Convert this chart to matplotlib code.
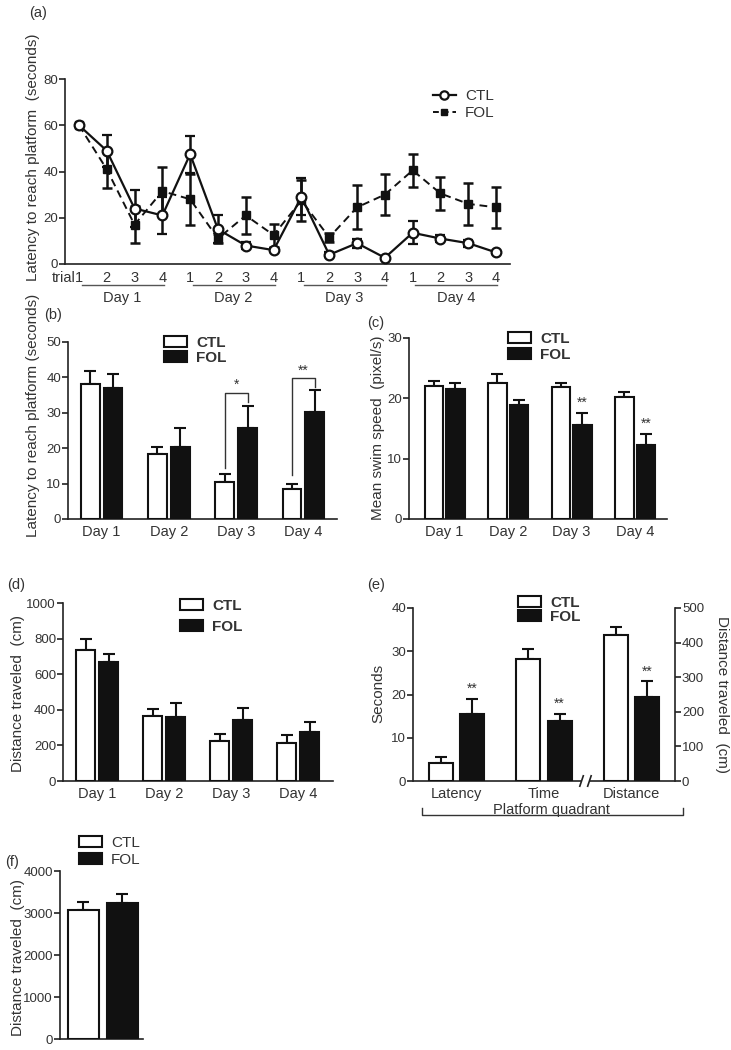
import numpy as np
import matplotlib.pyplot as plt
import matplotlib.transforms as mtransforms
from matplotlib.patches import Patch
from matplotlib.lines import Line2D

plt.rcParams['font.family'] = ['Liberation Sans', 'DejaVu Sans']
plt.rcParams['font.size'] = 9
TXT = '#333333'

# ---- data ----
# (a) latency per trial
trial_labels = ['1', '2', '3', '4'] * 4
days = ['Day 1', 'Day 2', 'Day 3', 'Day 4']
a_ctl = [60, 49, 24, 21, 47.5, 15, 8, 6, 29, 4, 9, 2.7, 13.5, 11, 9, 5]
a_ctl_err = [0, 7, 8, 8, 8, 6, 1.5, 1, 8, 1, 2, 0.5, 5, 1.5, 1.5, 0.5]
a_fol = [60, 41, 17, 31.5, 28, 11, 21, 12.5, 27.5, 11.5, 24.5, 30, 40.5, 30.5, 26, 24.5]
a_fol_err = [0, 8, 8, 10.5, 11, 2, 8, 5, 9, 2, 9.5, 9, 7, 7, 9, 9]

# (b) latency per day
b_ctl = [38.1, 18.4, 10.4, 8.6]
b_ctl_err = [3.7, 1.9, 2.4, 1.3]
b_fol = [37.1, 20.4, 25.6, 30.1]
b_fol_err = [3.8, 5.2, 6.4, 6.4]

# (c) swim speed
c_ctl = [22.0, 22.6, 21.8, 20.2]
c_ctl_err = [0.95, 1.4, 0.7, 0.8]
c_fol = [21.6, 18.9, 15.6, 12.2]
c_fol_err = [1.0, 0.9, 1.9, 1.9]

# (d) distance per day
d_ctl = [735, 366, 224, 211]
d_ctl_err = [60, 37, 41, 47]
d_fol = [668, 357, 344, 278]
d_fol_err = [43, 80, 65, 53]

# (e) probe trial
e_groups = ['Latency', 'Time', 'Distance']
e_ctl_sec = [4.2, 28.2]
e_ctl_sec_err = [1.3, 2.3]
e_fol_sec = [15.6, 13.8]
e_fol_sec_err = [3.4, 1.8]
e_ctl_dist = [422]
e_ctl_dist_err = [23]
e_fol_dist = [243]
e_fol_dist_err = [45]

# (f) total distance
f_ctl = [3071]
f_ctl_err = [199]
f_fol = [3246]
f_fol_err = [198]

W, H = 731, 1050
fig = plt.figure(figsize=(W / 100, H / 100), dpi=100)


def box(l, t, r, b):
    return [l / W, 1 - b / H, (r - l) / W, (b - t) / H]


def style(ax, yticks):
    for s in ['top', 'right']:
        ax.spines[s].set_visible(False)
    for s in ['left', 'bottom']:
        ax.spines[s].set_linewidth(1.2)
        ax.spines[s].set_color('#222222')
    ax.set_ylim(yticks[0], yticks[-1])
    ax.set_yticks(yticks)
    ax.tick_params(axis='y', direction='out', length=4, width=1.2, color='#222222',
                   labelcolor=TXT, labelsize=9.5, pad=1)
    ax.tick_params(axis='x', length=0, labelcolor=TXT, labelsize=10.5, pad=4)


def bars(ax, x, vals, errs, filled, width):
    fc = '#111111' if filled else 'white'
    ax.bar(x, vals, width, color=fc, edgecolor='#111111', linewidth=1.5, zorder=3)
    ax.errorbar(x, vals, yerr=[np.zeros(len(errs)), errs], fmt='none', ecolor='#111111',
                elinewidth=1.5, capsize=4, capthick=1.5, zorder=2)


def bar_legend(ax, x, y, spacing, bold=True, fs=11):
    h = [Patch(facecolor='white', edgecolor='#111111', linewidth=1.5),
         Patch(facecolor='#111111', edgecolor='#111111', linewidth=1.5)]
    leg = ax.legend(h, ['CTL', 'FOL'], loc='upper left', bbox_to_anchor=(x / W, 1 - y / H),
                    bbox_transform=fig.transFigure, frameon=False, borderpad=0,
                    borderaxespad=0, handlelength=1.5, handleheight=0.7,
                    handletextpad=0.6, labelspacing=spacing,
                    prop={'size': fs, 'weight': 'bold' if bold else 'normal'})
    for t in leg.get_texts():
        t.set_color(TXT)


def ylab(x, y, s, rot=90, fs=11):
    fig.text(x / W, 1 - y / H, s, rotation=rot, ha='center', va='center',
             fontsize=fs, color=TXT)


def plabel(x, y, s):
    fig.text(x / W, 1 - y / H, s, ha='left', va='center', fontsize=10.5, color=TXT)


# ---- (a) ----
ax = fig.add_axes(box(65, 79, 510, 264))
style(ax, [0, 20, 40, 60, 80])
xa = np.arange(len(a_ctl))
ax.errorbar(xa, a_fol, yerr=a_fol_err, color='#111111', ls=(0, (4, 2.5)), lw=1.4,
            marker='s', ms=6, mfc='#111111', mec='#111111', elinewidth=1.8,
            capsize=3.5, capthick=1.8, zorder=3)
ax.errorbar(xa, a_ctl, yerr=a_ctl_err, color='#111111', ls='-', lw=1.6,
            marker='o', ms=7, mfc='white', mec='#111111', mew=1.6, elinewidth=1.8,
            capsize=3.5, capthick=1.8, zorder=4)
ax.set_xlim(-0.5, 15.5)
ax.set_xticks(xa)
ax.set_xticklabels(trial_labels)
ax.tick_params(axis='x', pad=5)
tr = mtransforms.blended_transform_factory(ax.transData, ax.transAxes)
ax.text(-0.12, -0.076, 'trial', transform=tr, ha='right', va='center', fontsize=10.5, color=TXT)
for i, d in enumerate(days):
    ax.plot([4 * i + 0.1, 4 * i + 3.05], [-0.115, -0.115], transform=tr, color='#555555',
            lw=1, clip_on=False)
    ax.text(4 * i + 1.55, -0.185, d, transform=tr, ha='center', va='center',
            fontsize=10.5, color=TXT)
ha = [Line2D([], [], color='#111111', lw=1.6, marker='o', ms=6, mfc='white', mew=1.6),
      Line2D([], [], color='#111111', lw=1.4, ls=(0, (3, 2)), marker='s', ms=5, mfc='#111111')]
leg = ax.legend(ha, ['CTL', 'FOL'], loc='upper left', bbox_to_anchor=(433 / W, 1 - 89 / H),
                bbox_transform=fig.transFigure, frameon=False, borderpad=0, borderaxespad=0,
                handlelength=1.5, handletextpad=0.6, labelspacing=0.2, prop={'size': 11})
for t in leg.get_texts():
    t.set_color(TXT)
ylab(33, 157, 'Latency to reach platform  (seconds)')
plabel(29, 13, '(a)')

# ---- (b) ----
off, bw = 0.17, 0.28
xb = np.arange(len(days))
ax = fig.add_axes(box(68, 342, 337, 519))
style(ax, [0, 10, 20, 30, 40, 50])
bars(ax, xb - off, b_ctl, b_ctl_err, False, bw)
bars(ax, xb + off, b_fol, b_fol_err, True, bw)
ax.set_xlim(-0.5, 3.5)
ax.set_xticks(xb)
ax.set_xticklabels(days)
for i, star, top, lo_l, lo_r in [(2, '*', 35.5, 14.4, 33.0), (3, '**', 39.7, 12.5, 37.3)]:
    ax.plot([i - off, i - off, i + off, i + off], [lo_l, top, top, lo_r], color='#333333',
            lw=1, zorder=4)
    ax.text(i, top + 0.3, star, ha='center', va='bottom', fontsize=10, color=TXT)
bar_legend(ax, 164, 336, 0.05)
ylab(33, 415, 'Latency to reach platform (seconds)')
plabel(44, 315, '(b)')

# ---- (c) ----
ax = fig.add_axes(box(409, 338, 667, 519))
style(ax, [0, 10, 20, 30])
bars(ax, xb - off, c_ctl, c_ctl_err, False, 0.29)
bars(ax, xb + off, c_fol, c_fol_err, True, 0.29)
ax.set_xlim(-0.56, 3.5)
ax.set_xticks(xb)
ax.set_xticklabels(days)
for i in [2, 3]:
    ax.text(i + off, c_fol[i] + c_fol_err[i] + 0.6, '**', ha='center', va='bottom',
            fontsize=10, color=TXT)
bar_legend(ax, 508, 332, 0.1)
ylab(378, 428, 'Mean swim speed  (pixel/s)')
plabel(367, 323, '(c)')

# ---- (d) ----
ax = fig.add_axes(box(63, 603, 333, 781))
style(ax, [0, 200, 400, 600, 800, 1000])
bars(ax, xb - off, d_ctl, d_ctl_err, False, bw)
bars(ax, xb + off, d_fol, d_fol_err, True, bw)
ax.set_xlim(-0.51, 3.52)
ax.set_xticks(xb)
ax.set_xticklabels(days)
bar_legend(ax, 180, 599, 0.45)
ylab(18, 694, 'Distance traveled  (cm)')
plabel(7, 585, '(d)')

# ---- (e) ----
eo, ew = 0.178, 0.275
xe = np.arange(len(e_groups))
ax = fig.add_axes(box(413, 608, 675, 781))
style(ax, [0, 10, 20, 30, 40])
ax.spines['bottom'].set_visible(False)
bars(ax, xe[:2] - eo, e_ctl_sec, e_ctl_sec_err, False, ew)
bars(ax, xe[:2] + eo, e_fol_sec, e_fol_sec_err, True, ew)
ax.set_xlim(-0.5, 2.5)
ax.set_xticks(xe)
ax.set_xticklabels(e_groups)
ax2 = ax.twinx()
ax2.set_xlim(-0.5, 2.5)
for s in ['top', 'left', 'bottom']:
    ax2.spines[s].set_visible(False)
ax2.spines['right'].set_linewidth(1.2)
ax2.spines['right'].set_color('#222222')
ax2.set_ylim(0, 500)
ax2.set_yticks([0, 100, 200, 300, 400, 500])
ax2.tick_params(axis='y', direction='out', length=4, width=1.2, color='#222222',
                labelcolor=TXT, labelsize=9.5, pad=1)
bars(ax2, xe[2:] - eo, e_ctl_dist, e_ctl_dist_err, False, ew)
bars(ax2, xe[2:] + eo, e_fol_dist, e_fol_dist_err, True, ew)
ax.text(xe[0] + eo, e_fol_sec[0] + e_fol_sec_err[0] + 0.6, '**', ha='center', va='bottom',
        fontsize=10, color=TXT)
ax.text(xe[1] + eo, e_fol_sec[1] + e_fol_sec_err[1] + 0.6, '**', ha='center', va='bottom',
        fontsize=10, color=TXT)
ax2.text(xe[2] + eo, e_fol_dist[0] + e_fol_dist_err[0] + 8, '**', ha='center', va='bottom',
         fontsize=10, color=TXT)
# broken x axis
tre = mtransforms.blended_transform_factory(ax.transData, ax.transAxes)
ax.plot([-0.5, 1.43], [0, 0], transform=tre, color='#222222', lw=1.2, clip_on=False,
        solid_capstyle='butt')
ax.plot([1.52, 2.5], [0, 0], transform=tre, color='#222222', lw=1.2, clip_on=False,
        solid_capstyle='butt')
for bx in [1.43, 1.52]:
    ax.plot([bx - 0.02, bx + 0.02], [-0.03, 0.03], transform=tre, color='#222222', lw=1.2,
            clip_on=False)
# platform quadrant bracket
ax.plot([0.034, 0.034, 1.03, 1.03], [-0.156, -0.197, -0.197, -0.156], transform=ax.transAxes,
        color='#333333', lw=1, clip_on=False)
ax.text(0.53, -0.165, 'Platform quadrant', transform=ax.transAxes, ha='center', va='center',
        fontsize=10.5, color=TXT)
bar_legend(ax, 518, 596, 0.0)
ylab(378, 693, 'Seconds')
ylab(722, 694, 'Distance traveled  (cm)', rot=-90)
plabel(367, 585, '(e)')

# ---- (f) ----
ax = fig.add_axes(box(60, 871, 143, 1039))
style(ax, [0, 1000, 2000, 3000, 4000])
bars(ax, [0], f_ctl, f_ctl_err, False, 0.37)
bars(ax, [0.47], f_fol, f_fol_err, True, 0.37)
ax.set_xlim(-0.28, 0.72)
ax.set_xticks([])
bar_legend(ax, 79, 836, 0.2, bold=False)
ylab(18, 958, 'Distance traveled  (cm)')
plabel(5, 862, '(f)')

fig.savefig('out.png', dpi=100)
